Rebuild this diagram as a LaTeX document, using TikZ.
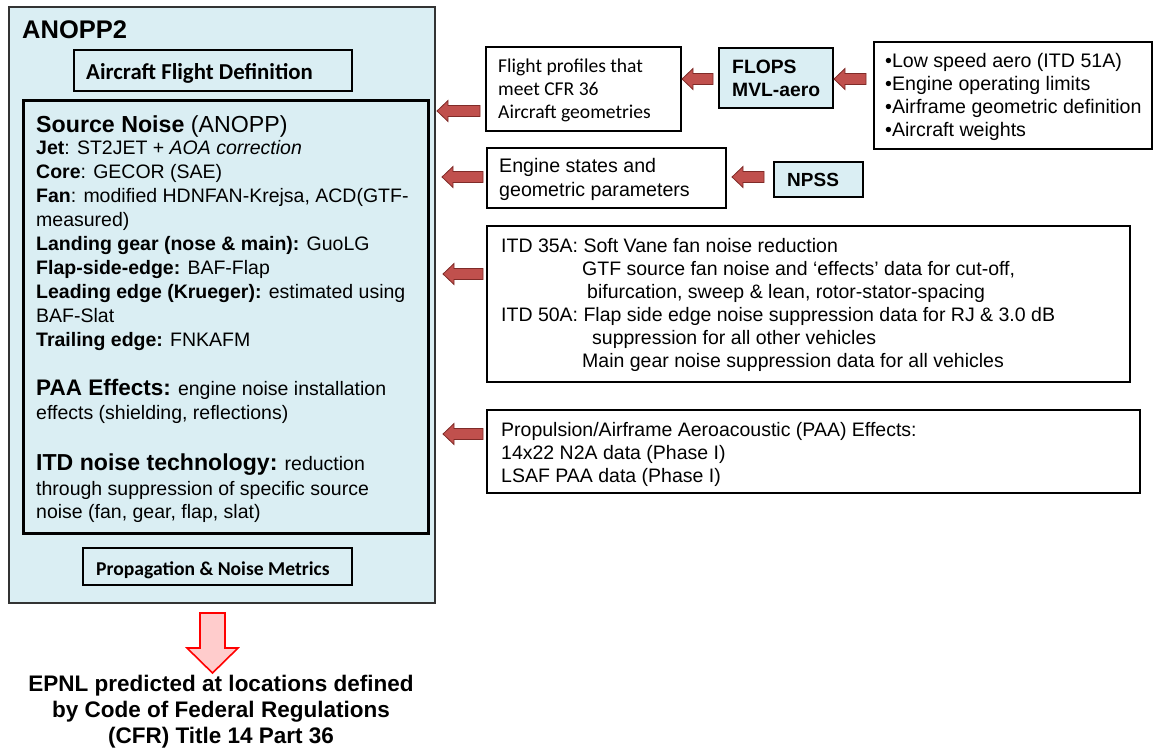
\documentclass[tikz,border=0pt]{standalone}
\usepackage{fontspec}
\setmainfont{Liberation Sans}
\newfontfamily\calibri{Carlito}
\usetikzlibrary{calc}

\definecolor{paleblue}{HTML}{DAEEF3}
\definecolor{arrowred}{HTML}{C0504D}
\definecolor{arrowedge}{HTML}{7F2B28}
\definecolor{pinkfill}{HTML}{FFCCCC}

\tikzset{
  plainbox/.style={draw=black, line width=1.2pt, rectangle, inner sep=0pt, outer sep=0pt},
  bluebox/.style={plainbox, fill=paleblue},
  blockarrow/.style={fill=arrowred, draw=arrowedge, line width=0.8pt},
  pinkarrow/.style={fill=pinkfill, draw=red, line width=1.6pt, line join=miter},
  txt/.style={font=\fontsize{19.5}{23}\selectfont, align=left, inner sep=0pt, anchor=base west}
}

% block arrow pointing left: source box, target box, y, gap at tip, gap at tail
\newcommand{\blockarr}[5]{%
  \path (#2.east |- 0,#3) ++(#4,0) coordinate (tip);
  \path (#1.west |- 0,#3) ++(-#5,0) coordinate (tail);
  \draw[blockarrow] (tip) -- ++(11,-10.5) -- ++(0,5) -- ($(tail)+(0,-5.5)$)
    -- ($(tail)+(0,5.5)$) -- ($(tip)+(11,5.5)$) -- ++(0,5) -- cycle;}

\begin{document}
\begin{tikzpicture}[x=1pt,y=-1pt]
    \useasboundingbox (0,0) rectangle (1153,751);
    % ANOPP2 frame (text nodes sit on the baseline of their last line)
    \node[plainbox, fill=paleblue, draw=black!80, line width=1.4pt,
          minimum width=426pt, minimum height=596pt] (anopp) at (222,305) {};
    \node[txt, font=\bfseries\fontsize{25.5}{30}\selectfont] (title) at (22,39) {ANOPP2};
    \node[plainbox, line width=2pt, minimum width=278pt, minimum height=41pt] (afd) at (213,70.5) {};
    \node[txt, font=\calibri\bfseries\fontsize{22.8}{26}\selectfont] (afdtxt) at (86,80) {Aircraft Flight Definition};
    \node[plainbox, line width=3pt, minimum width=405pt, minimum height=432pt] (src) at (225.5,317) {};
    \node[txt] (srctxt) at (36,518) {{\fontsize{23.2}{24}\selectfont\textbf{Source Noise} (ANOPP)}\\[-1pt]
        \textbf{Jet}: ST2JET + \textit{AOA correction}\\[0.9pt]
        \textbf{Core}: GECOR (SAE)\\[0.9pt]
        \textbf{Fan}: modified HDNFAN-Krejsa, ACD(GTF-\\[0.9pt]
        measured)\\[0.9pt]
        \textbf{Landing gear (nose \& main):} GuoLG\\[0.9pt]
        \textbf{Flap-side-edge:} BAF-Flap\\[0.9pt]
        \textbf{Leading edge (Krueger):} estimated using\\[0.9pt]
        BAF-Slat\\[0.9pt]
        \textbf{Trailing edge:} FNKAFM\\[26pt]
        {\fontsize{22.5}{24}\selectfont\textbf{PAA Effects:}} engine noise installation\\[1pt]
        effects (shielding, reflections)\\[28pt]
        {\fontsize{23.1}{24}\selectfont\textbf{ITD noise technology:}} reduction\\[2pt]
        through suppression of specific source\\
        noise (fan, gear, flap, slat)};
    \node[plainbox, line width=2pt, minimum width=269pt, minimum height=37pt] (prop) at (217.5,566.5) {};
    \node[txt, font=\calibri\bfseries\fontsize{19.6}{23}\selectfont] (proptxt) at (96,575) {Propagation \& Noise Metrics};
    % inputs
    \node[plainbox, minimum width=195pt, minimum height=84pt] (flight) at (583.5,89) {};
    \node[txt, font=\calibri\fontsize{19.6}{22.7}\selectfont] (flighttxt) at (498,118.4) {Flight profiles that\\meet CFR 36\\Aircraft geometries};
    \node[bluebox, minimum width=114pt, minimum height=60pt] (flops) at (776,78) {};
    \node[txt, font=\bfseries\fontsize{19.3}{23}\selectfont] (flopstxt) at (732,97) {FLOPS\\MVL-aero};
    \node[plainbox, minimum width=278pt, minimum height=107pt] (bullets) at (1013,95.5) {};
    \node[txt, font=\fontsize{19.6}{23.3}\selectfont] (bullettxt) at (885,137) {•Low speed aero (ITD 51A)\\•Engine operating limits\\•Airframe geometric definition\\•Aircraft weights};
    \node[plainbox, minimum width=239pt, minimum height=60pt] (engine) at (606.5,178) {};
    \node[txt, font=\fontsize{19.6}{24}\selectfont] (enginetxt) at (499,197) {Engine states and\\geometric parameters};
    \node[bluebox, minimum width=89pt, minimum height=35pt] (npss) at (818.5,179.5) {};
    \node[txt, font=\bfseries\fontsize{19}{23}\selectfont] (npsstxt) at (787,187) {NPSS};
    \node[plainbox, minimum width=643pt, minimum height=156pt] (itd) at (808.5,304) {};
    \node[txt] (itdtxt) at (501,367) {ITD 35A: Soft Vane fan noise reduction\\
        \hspace*{81pt}GTF source fan noise and ‘effects’ data for cut-off,\\
        \hspace*{86pt}bifurcation, sweep \& lean, rotor-stator-spacing\\
        ITD 50A: Flap side edge noise suppression data for RJ \& 3.0 dB\\
        \hspace*{91pt}suppression for all other vehicles\\
        \hspace*{81pt}Main gear noise suppression data for all vehicles};
    \node[plainbox, minimum width=653pt, minimum height=83pt] (paa) at (813.5,451.5) {};
    \node[txt] (paatxt) at (501,482) {Propulsion/Airframe Aeroacoustic (PAA) Effects:\\
        14x22 N2A data (Phase I)\\LSAF PAA data (Phase I)};
    % arrows
    \blockarr{flight}{anopp}{111}{2}{6}
    \blockarr{engine}{anopp}{177}{7}{4}
    \blockarr{itd}{anopp}{274}{8}{4}
    \blockarr{paa}{anopp}{434}{8}{4}
    \blockarr{flops}{flight}{79}{1}{6}
    \blockarr{bullets}{flops}{79}{1}{8}
    \blockarr{npss}{engine}{177}{6}{10}
    % result
    \node[txt, anchor=base, align=center, font=\bfseries\fontsize{22.5}{26}\selectfont] (epnl) at (221,743)
        {EPNL predicted at locations defined\\by Code of Federal Regulations\\(CFR) Title 14 Part 36};
    \path ($(anopp.south)+(-9.5,10)$) coordinate (dn);
    \draw[pinkarrow] (dn) ++(-12.5,0) -- ++(25,0) -- ++(0,35) -- ++(13,0) -- ++(-25.5,25)
        -- ++(-25.5,-25) -- ++(13,0) -- cycle;
\end{tikzpicture}
\end{document}
